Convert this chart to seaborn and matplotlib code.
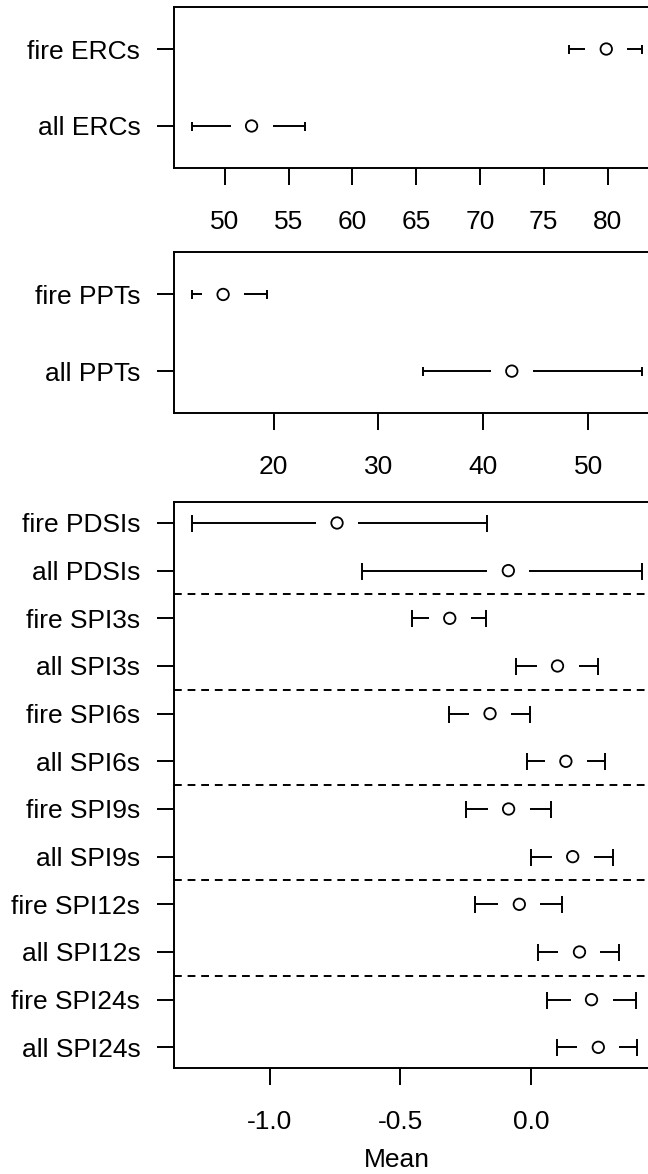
"""
Mean and interval of fire-day vs all-day drought indices
"""

import numpy as np
import pandas as pd
import matplotlib
matplotlib.use("Agg")
import matplotlib.pyplot as plt
import seaborn as sns

# -----------------------------
# DATA
# -----------------------------
erc_labels = ["fire ERCs", "all ERCs"]
erc_mean = [79.9, 52.1]
erc_low = [77.0, 47.4]
erc_high = [82.7, 56.3]
erc_ticks = [50, 55, 60, 65, 70, 75, 80]

ppt_labels = ["fire PPTs", "all PPTs"]
ppt_mean = [15.2, 42.7]
ppt_low = [12.2, 34.2]
ppt_high = [19.4, 55.1]
ppt_ticks = [20, 30, 40, 50]

drought_labels = ["fire PDSIs", "all PDSIs", "fire SPI3s", "all SPI3s",
                  "fire SPI6s", "all SPI6s", "fire SPI9s", "all SPI9s",
                  "fire SPI12s", "all SPI12s", "fire SPI24s", "all SPI24s"]
drought_mean = [-0.742, -0.087, -0.311, 0.101, -0.157, 0.133,
                -0.086, 0.159, -0.045, 0.185, 0.231, 0.257]
drought_low = [-1.298, -0.646, -0.455, -0.059, -0.312, -0.014,
               -0.249, 0.000, -0.214, 0.028, 0.060, 0.098]
drought_high = [-0.170, 0.424, -0.173, 0.256, -0.004, 0.282,
                0.077, 0.313, 0.120, 0.338, 0.401, 0.405]
drought_ticks = [-1.0, -0.5, 0.0]

# -----------------------------
# STYLE
# -----------------------------
sns.set_style("ticks")
plt.rcParams["font.family"] = ["Liberation Sans", "DejaVu Sans"]
plt.rcParams["axes.unicode_minus"] = False
plt.rcParams["axes.linewidth"] = 1.4
plt.rcParams["axes.edgecolor"] = "black"
plt.rcParams["text.color"] = "black"
plt.rcParams["axes.labelcolor"] = "black"

W, H = 648, 1174
LW = 1.4
FS = 19
fig = plt.figure(figsize=(W / 100, H / 100), dpi=100)


def px_box(left, top, right, bottom):
    return [left / W, 1 - bottom / H, (right - left) / W, (bottom - top) / H]


def ci_panel(ax, labels, mean, low, high, ticks, ylim, cap_px, fmt):
    n = len(labels)
    df = pd.DataFrame({"label": labels, "mean": mean, "low": low,
                       "high": high, "y": np.arange(n, 0, -1)})
    lo, hi = min(low), max(high)
    pad = 0.04 * (hi - lo)
    ax.set_xlim(lo - pad, hi + pad)
    ax.set_ylim(*ylim)

    # gap left around the circle, 21 px converted to data units
    px_per_unit = ax.get_position().width * W / (hi - lo + 2 * pad)
    gap = 21 / px_per_unit
    ax.hlines(df["y"], df["low"], np.maximum(df["mean"] - gap, df["low"]),
              color="black", lw=LW)
    ax.hlines(df["y"], np.minimum(df["mean"] + gap, df["high"]), df["high"],
              color="black", lw=LW)
    cap_ms = cap_px * 72 / 100
    for col in ["low", "high"]:
        ax.plot(df[col], df["y"], ls="none", marker="|", ms=cap_ms,
                mew=LW, color="black")
    sns.scatterplot(data=df, x="mean", y="y", marker="o", s=68,
                    facecolors="none", edgecolor="black", linewidth=1.3,
                    ax=ax, zorder=3)

    ax.set_yticks(df["y"], labels)
    ax.set_xticks(ticks, [fmt.format(t) for t in ticks])
    ax.set_xlabel("")
    ax.set_ylabel("")
    ax.tick_params(axis="both", direction="out", length=12, width=LW,
                   labelsize=FS, colors="black")
    ax.tick_params(axis="x", pad=18)
    ax.tick_params(axis="y", pad=12)
    for s in ax.spines.values():
        s.set_visible(True)
        s.set_linewidth(LW)
    return df


# box extends a little past the right edge of the picture (cropped original)
ax1 = fig.add_axes(px_box(173.6, 6.7, 660, 168.3))
ci_panel(ax1, erc_labels, erc_mean, erc_low, erc_high, erc_ticks,
         (0.45, 2.55), 9, "{:.0f}")

ax2 = fig.add_axes(px_box(173.6, 252.3, 660, 413.3))
ci_panel(ax2, ppt_labels, ppt_mean, ppt_low, ppt_high, ppt_ticks,
         (0.45, 2.55), 9, "{:.0f}")

ax3 = fig.add_axes(px_box(173.6, 502, 660, 1068.3))
ci_panel(ax3, drought_labels, drought_mean, drought_low, drought_high,
         drought_ticks, (0.56, 12.44), 17, "{:.1f}")
for yy in [10.5, 8.5, 6.5, 4.5, 2.5]:
    ax3.axhline(yy, color="black", lw=LW, ls=(0, (4, 3)))
ax3.set_xlabel("Mean", fontsize=FS, color="black")
ax3.xaxis.set_label_coords((397 - 173.6) / (660 - 173.6), -0.141)

fig.savefig("out.png", dpi=100)
